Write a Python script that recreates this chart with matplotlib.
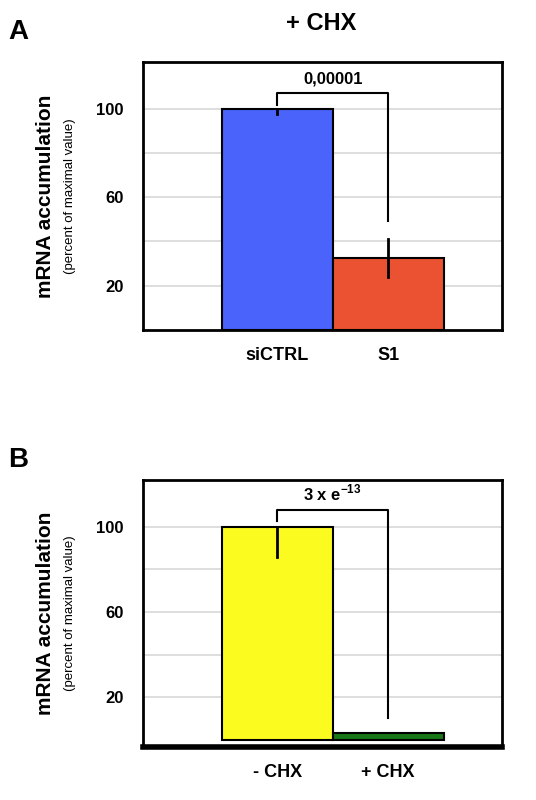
import matplotlib
matplotlib.use("Agg")
import matplotlib.pyplot as plt

plt.rcParams['font.family'] = ['Liberation Sans', 'DejaVu Sans']
plt.rcParams['mathtext.fontset'] = 'custom'
plt.rcParams['mathtext.bf'] = 'Liberation Sans:bold'

# Panel A data
cats_a = ['siCTRL', 'S1']
vals_a = [100, 32.5]
err_lo_a = [2.5, 8.5]
err_hi_a = [0, 8.5]
colors_a = ['#4a63fb', '#ea5232']
p_a = '0,00001'

# Panel B data
cats_b = ['- CHX', '+ CHX']
vals_b = [100, 3.3]
err_lo_b = [14, 0]
err_hi_b = [0, 0]
colors_b = ['#fbfb20', '#187818']
p_b = r'3 x e$^{\mathbf{-13}}$'

fig = plt.figure(figsize=(5.36, 8.0), dpi=100)


def panel(rect, cats, vals, lo, hi, colors, ylim, ptext, bracket, thick_bottom):
    ax = fig.add_axes(rect)
    x = [0, 1]
    ax.bar(x, vals, width=1.0, color=colors, edgecolor='black', linewidth=1.5, zorder=3)
    for xi, v, el, eh in zip(x, vals, lo, hi):
        if el + eh > 0:
            ax.plot([xi, xi], [v - el, v + eh], color='black', lw=2, zorder=4)
    ax.set_xlim(-1.207, 2.027)
    ax.set_ylim(*ylim)
    for g in [20, 40, 60, 80, 100]:
        ax.axhline(g, color='#d8d8d8', lw=1.2, zorder=1)
    ax.set_yticks([20, 60, 100])
    ax.set_yticklabels(['20', '60', '100'], fontsize=12, fontweight='bold')
    ax.tick_params(axis='y', length=0, pad=14)
    ax.set_xticks(x)
    ax.set_xticklabels(cats, fontsize=13, fontweight='bold')
    ax.tick_params(axis='x', length=0, pad=12)
    for s in ax.spines.values():
        s.set_linewidth(2)
    if thick_bottom:
        ax.spines['bottom'].set_linewidth(4)
    top, left_low, right_low = bracket
    ax.plot([0, 0, 1, 1], [left_low, top, top, right_low], color='black', lw=1.5, zorder=4)
    ax.text(0.5, top + 3, ptext, ha='center', va='bottom', fontsize=12, fontweight='bold')
    return ax


axA = panel([0.267, 0.5875, 0.67, 0.335], cats_a, vals_a, err_lo_a, err_hi_a, colors_a,
            (0, 121), p_a, (107, 101.5, 49), False)
axB = panel([0.267, 0.066, 0.67, 0.334], cats_b, vals_b, err_lo_b, err_hi_b, colors_b,
            (-3.5, 122), p_b, (108, 102.6, 10), True)

for ax, y in [(axA, 0.755), (axB, 0.233)]:
    fig.text(0.085, y, 'mRNA accumulation', rotation=90, ha='center', va='center',
             fontsize=15, fontweight='bold')
    fig.text(0.13, y, '(percent of maximal value)', rotation=90, ha='center', va='center',
             fontsize=9.5)

fig.text(0.6, 0.985, '+ CHX', ha='center', va='top', fontsize=17, fontweight='bold')
fig.text(0.015, 0.96, 'A', ha='left', va='center', fontsize=20, fontweight='bold')
fig.text(0.015, 0.425, 'B', ha='left', va='center', fontsize=20, fontweight='bold')

fig.savefig('out.png', dpi=100)
